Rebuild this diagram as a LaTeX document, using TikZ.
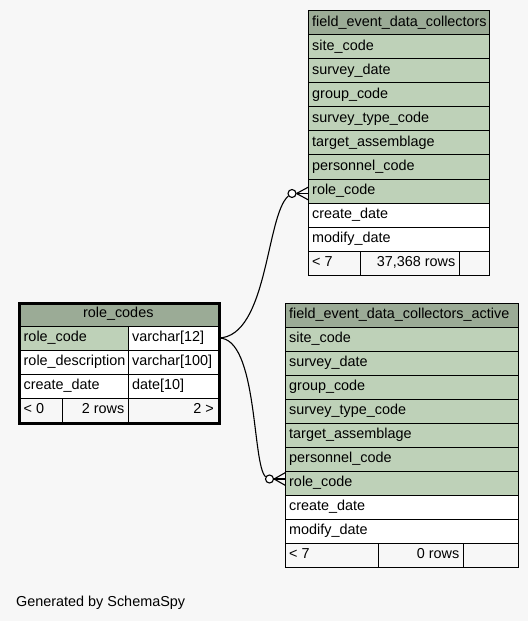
\documentclass[tikz,border=0pt]{standalone}
\usepackage{fontspec}
\setmainfont{Liberation Sans}
\usetikzlibrary{calc}
\definecolor{hdr}{HTML}{9BAB96}
\definecolor{key}{HTML}{BED1B8}
\definecolor{bg}{HTML}{F7F7F7}
\tikzset{
 cell/.style={rectangle, draw=black, line width=1bp, inner sep=0pt, minimum height=24bp},
 txt/.style={inner sep=0pt, font=\fontsize{14.4bp}{17bp}\selectfont, text=black},
 conn/.style={line width=1.1bp, draw=black},
 optc/.style={circle, draw=black, line width=1.1bp, fill=white, minimum size=8bp, inner sep=0pt},
}
\newcommand\cellL[6]{\node[cell,fill=#5,minimum width=#4bp,anchor=north west] (#1) at (#2,#3) {};
 \node[txt,anchor=base west] (#1t) at ([shift={(4,16)}]#1.north west) {#6};}
\newcommand\cellLL[6]{\node[cell,fill=#5,minimum width=#4bp,anchor=north west] (#1) at (#2,#3) {};
 \node[txt,anchor=base west] (#1t) at ([shift={(5.5,16)}]#1.north west) {#6};}
\newcommand\cellR[6]{\node[cell,fill=#5,minimum width=#4bp,anchor=north west] (#1) at (#2,#3) {};
 \node[txt,anchor=base east] (#1t) at ([shift={(-4.5,16)}]#1.north east) {#6};}
\newcommand\cellC[6]{\node[cell,fill=#5,minimum width=#4bp,anchor=north west] (#1) at (#2,#3) {};
 \node[txt,anchor=base] (#1t) at ([shift={(0,16)}]#1.north) {#6};}
\newcommand\cellE[5]{\node[cell,fill=#5,minimum width=#4bp,anchor=north west] (#1) at (#2,#3) {};}
\begin{document}
\begin{tikzpicture}[x=1bp,y=-1bp]
\fill[bg] (0,0) rectangle (528,621);
\useasboundingbox (0,0) rectangle (528,621);

% table field_event_data_collectors
\cellL{fah}{308}{10.5}{181}{hdr}{field\_event\_data\_collectors}
\cellL{fa1}{308}{34.5}{181}{key}{site\_code}
\cellL{fa2}{308}{58.5}{181}{key}{survey\_date}
\cellL{fa3}{308}{82.5}{181}{key}{group\_code}
\cellL{fa4}{308}{106.5}{181}{key}{survey\_type\_code}
\cellL{fa5}{308}{130.5}{181}{key}{target\_assemblage}
\cellL{fa6}{308}{154.5}{181}{key}{personnel\_code}
\cellL{fa7}{308}{178.5}{181}{key}{role\_code}
\cellL{fa8}{308}{202.5}{181}{white}{create\_date}
\cellL{fa9}{308}{226.5}{181}{white}{modify\_date}
\cellL{fafa}{308}{250.5}{52}{bg}{\textless{} 7}
\cellR{fafb}{360}{250.5}{99}{bg}{37,368 rows}
\cellE{fafc}{459}{250.5}{30}{bg}

% table field_event_data_collectors_active
\cellL{fbh}{285}{302.5}{233}{hdr}{field\_event\_data\_collectors\_active}
\cellL{fb1}{285}{326.5}{233}{key}{site\_code}
\cellL{fb2}{285}{350.5}{233}{key}{survey\_date}
\cellL{fb3}{285}{374.5}{233}{key}{group\_code}
\cellL{fb4}{285}{398.5}{233}{key}{survey\_type\_code}
\cellL{fb5}{285}{422.5}{233}{key}{target\_assemblage}
\cellL{fb6}{285}{446.5}{233}{key}{personnel\_code}
\cellL{fb7}{285}{470.5}{233}{key}{role\_code}
\cellL{fb8}{285}{494.5}{233}{white}{create\_date}
\cellL{fb9}{285}{518.5}{233}{white}{modify\_date}
\cellL{fbfa}{285}{542.5}{93}{bg}{\textless{} 7}
\cellR{fbfb}{378}{542.5}{85}{bg}{0 rows}
\cellE{fbfc}{463}{542.5}{55}{bg}

% table role_codes
\cellC{rch}{18}{301.5}{199.5}{hdr}{role\_codes}
\cellLL{rc1a}{18}{325.5}{110}{key}{role\_code}
\cellL{rc1b}{128}{325.5}{89.5}{white}{varchar[12]}
\cellLL{rc2a}{18}{349.5}{110}{white}{role\_description}
\cellL{rc2b}{128}{349.5}{89.5}{white}{varchar[100]}
\cellLL{rc3a}{18}{373.5}{110}{white}{create\_date}
\cellL{rc3b}{128}{373.5}{89.5}{white}{date[10]}
\cellLL{rcfa}{18}{397.5}{44}{bg}{\textless{} 0}
\cellR{rcfb}{62}{397.5}{66}{bg}{2 rows}
\cellR{rcfc}{128}{397.5}{89.5}{bg}{2 \textgreater}
\node[draw=black, line width=3.2bp, inner sep=0pt, minimum width=199.5bp, minimum height=120.5bp, anchor=north west] (rcbox) at (18,301.5) {};

% connectors
\node[optc] (c1) at (292,193.5) {};
\node[optc] (c2) at (269.5,479) {};
\draw[conn] (rc1b.east) .. controls (268,337) and (266,215) .. (c1.215);
\draw[conn] (rc1b.east) .. controls (258,337) and (252,465) .. (c2.150);
\draw[conn] (c1.east) -- ([shift={(12,-6.5)}]c1.east);
\draw[conn] (c1.east) -- ([shift={(12,0)}]c1.east);
\draw[conn] (c1.east) -- ([shift={(12,6.5)}]c1.east);
\draw[conn] (c2.east) -- ([shift={(11.5,-6.5)}]c2.east);
\draw[conn] (c2.east) -- ([shift={(11.5,0)}]c2.east);
\draw[conn] (c2.east) -- ([shift={(11.5,6.5)}]c2.east);

\node[txt, anchor=base west] (gen) at (16,606) {Generated by SchemaSpy};
\end{tikzpicture}
\end{document}
